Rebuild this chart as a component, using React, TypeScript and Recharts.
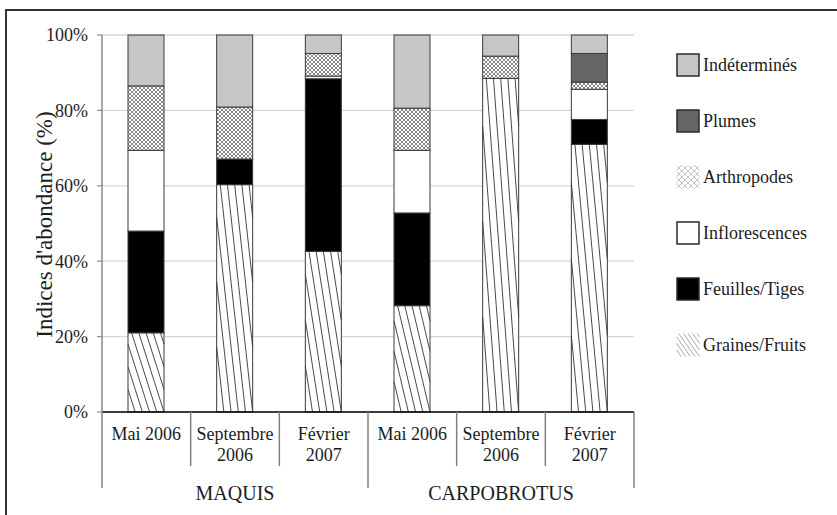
import { Bar, BarChart, CartesianGrid, XAxis, YAxis } from "recharts";

const slots = ["m-mai06", "m-sep06", "m-fev07", "c-mai06", "c-sep06", "c-fev07"];
const periodLabels = [
  ["Mai 2006"],
  ["Septembre", "2006"],
  ["Février", "2007"],
  ["Mai 2006"],
  ["Septembre", "2006"],
  ["Février", "2007"],
];
const groupLabels = ["MAQUIS", "CARPOBROTUS"];
const yTicks = [0, 20, 40, 60, 80, 100];

const graines = [21.0, 60.3, 42.6, 28.2, 88.5, 71.0];
const feuilles = [27.0, 6.8, 45.8, 24.6, 0, 6.6];
const inflorescences = [21.4, 0, 0.7, 16.6, 0, 8.0];
const arthropodes = [17.1, 13.8, 6.0, 11.2, 5.9, 1.9];
const plumes = [0, 0, 0, 0, 0, 7.6];
const indetermines = [13.5, 19.1, 4.9, 19.4, 5.6, 4.9];

type Kind = "hatch" | "cross" | "solid";

const series: { key: string; name: string; values: number[]; kind: Kind; fill: string; edge: string }[] = [
  { key: "graines", name: "Graines/Fruits", values: graines, kind: "hatch", fill: "#fff", edge: "#3a3a3a" },
  { key: "feuilles", name: "Feuilles/Tiges", values: feuilles, kind: "solid", fill: "#000", edge: "#3a3a3a" },
  { key: "inflorescences", name: "Inflorescences", values: inflorescences, kind: "solid", fill: "#fff", edge: "#3a3a3a" },
  { key: "arthropodes", name: "Arthropodes", values: arthropodes, kind: "cross", fill: "url(#arthro)", edge: "#3a3a3a" },
  { key: "plumes", name: "Plumes", values: plumes, kind: "solid", fill: "#656565", edge: "#3a3a3a" },
  { key: "indetermines", name: "Indéterminés", values: indetermines, kind: "solid", fill: "#c6c6c6", edge: "#3a3a3a" },
];

const data = slots.map((slot, i) => {
  const row: Record<string, number | string> = { slot };
  series.forEach((s) => {
    row[s.key] = s.values[i];
  });
  return row;
});

const FONT = "'Liberation Serif', 'Times New Roman', serif";
const INK = "#1c1c1c";

function hatchLines(x: number, y: number, w: number, h: number, color: string) {
  const shift = w * 0.7;
  const step = w / 5;
  const lines = [];
  for (let s = -shift; s < w; s += step) {
    const t0 = Math.max(0, -s / shift);
    const t1 = Math.min(1, (w - s) / shift);
    if (t1 <= t0) continue;
    lines.push(
      <line
        key={s}
        x1={x + s + shift * t0}
        y1={y + h * t0}
        x2={x + s + shift * t1}
        y2={y + h * t1}
        stroke={color}
        strokeWidth={1}
      />
    );
  }
  return lines;
}

function Segment(props: any) {
  const { x, y, width, height, kind, fill, edge } = props;
  if (!height || height <= 0.01) return null;
  return (
    <g>
      <rect x={x} y={y} width={width} height={height} fill={fill} />
      {kind === "hatch" && hatchLines(x, y, width, height, "#4a4a4a")}
      <rect x={x} y={y} width={width} height={height} fill="none" stroke={edge} strokeWidth={1} />
    </g>
  );
}

function PeriodTick(props: any) {
  const { x, y, payload } = props;
  const i = payload.index as number;
  const half = payload.offset || 44.33;
  const lines = periodLabels[i];
  const left = x - half;
  const right = x + half;
  return (
    <g>
      {lines.map((t, k) => (
        <text key={k} x={x} y={y + 28 + k * 21} textAnchor="middle" fontFamily={FONT} fontSize={18} fill={INK}>
          {t}
        </text>
      ))}
      <line x1={left} y1={y} x2={left} y2={y + (i % 3 === 0 ? 76 : 54)} stroke="#808080" strokeWidth={1.5} />
      {i === slots.length - 1 && (
        <line x1={right} y1={y} x2={right} y2={y + 76} stroke="#808080" strokeWidth={1.5} />
      )}
      {i % 3 === 1 && (
        <text x={x} y={y + 88} textAnchor="middle" fontFamily={FONT} fontSize={20} fill={INK}>
          {groupLabels[Math.floor(i / 3)]}
        </text>
      )}
    </g>
  );
}

function AxisTitle(props: any) {
  const vb = props.viewBox || { x: 40, y: 35, height: 377 };
  const cx = vb.x + 12;
  const cy = vb.y + vb.height / 2 + 1;
  return (
    <text
      x={cx}
      y={cy}
      transform={`rotate(-90 ${cx} ${cy})`}
      textAnchor="middle"
      fontFamily={FONT}
      fontSize={23}
      fill={INK}
    >
      Indices d'abondance (%)
    </text>
  );
}

function Swatch({ kind, fill }: { kind: Kind; fill: string }) {
  if (kind === "hatch") {
    return (
      <svg width={24} height={24}>
        <rect x={0.5} y={0.5} width={23} height={23} fill="#fff" />
        {hatchLines(0.5, 0.5, 23, 23, "#a8a8a8")}
      </svg>
    );
  }
  if (kind === "cross") {
    return (
      <svg width={24} height={24}>
        <defs>
          <pattern id="arthroLegend" width={6} height={6} patternUnits="userSpaceOnUse">
            <rect width={6} height={6} fill="#fff" />
            <path d="M0 0L6 6M6 0L0 6" stroke="#b4b4b4" strokeWidth={0.8} />
          </pattern>
        </defs>
        <rect x={0.5} y={0.5} width={23} height={23} fill="url(#arthroLegend)" />
      </svg>
    );
  }
  return (
    <svg width={24} height={24}>
      <rect x={1} y={1} width={22} height={22} fill={fill} stroke="#2a2a2a" strokeWidth={1.5} />
    </svg>
  );
}

export default function App() {
  const legendItems = [...series].reverse();
  return (
    <div
      style={{
        position: "absolute",
        left: 0,
        top: 0,
        width: 837,
        height: 515,
        overflow: "hidden",
        background: "#fff",
      }}
    >
      <div
        style={{
          position: "absolute",
          left: 5,
          top: 9,
          width: 900,
          height: 600,
          border: "2px solid #333",
        }}
      />
      <div style={{ position: "absolute", left: 0, top: 0 }}>
        <BarChart
          width={837}
          height={515}
          data={data}
          margin={{ top: 35, right: 203, bottom: 0, left: 40 }}
          barSize={36}
        >
          <defs>
            <pattern id="arthro" width={4} height={4} patternUnits="userSpaceOnUse">
              <rect width={4} height={4} fill="#fff" />
              <path d="M0 0L4 4M4 0L0 4" stroke="#7a7a7a" strokeWidth={0.9} />
            </pattern>
          </defs>
          <CartesianGrid vertical={false} stroke="#d6d6d6" strokeWidth={1.2} />
          <XAxis
            dataKey="slot"
            height={103}
            interval={0}
            tickLine={false}
            tickSize={0}
            tickMargin={0}
            axisLine={{ stroke: "#000", strokeWidth: 1.5 }}
            tick={<PeriodTick />}
          />
          <YAxis
            width={62}
            domain={[0, 100]}
            ticks={yTicks}
            interval={0}
            tickSize={5}
            tickMargin={9}
            tickFormatter={(v) => `${v}%`}
            axisLine={{ stroke: "#8a8a8a", strokeWidth: 1.5 }}
            tickLine={{ stroke: "#8a8a8a", strokeWidth: 1.2 }}
            tick={{ fontFamily: FONT, fontSize: 18, fill: INK }}
            label={<AxisTitle />}
          />
          {series.map((s) => (
            <Bar
              key={s.key}
              dataKey={s.key}
              name={s.name}
              stackId="a"
              isAnimationActive={false}
              fill={s.fill}
              shape={(p: any) => <Segment {...p} kind={s.kind} fill={s.fill} edge={s.edge} />}
            />
          ))}
        </BarChart>
      </div>
      {legendItems.map((s, i) => (
        <div
          key={s.key}
          style={{
            position: "absolute",
            left: 676,
            top: 65 + i * 56 - 12,
            height: 24,
            display: "flex",
            alignItems: "center",
            fontFamily: FONT,
            fontSize: 18,
            color: INK,
            whiteSpace: "nowrap",
          }}
        >
          <Swatch kind={s.kind} fill={s.fill} />
          <span style={{ marginLeft: 3 }}>{s.name}</span>
        </div>
      ))}
    </div>
  );
}
